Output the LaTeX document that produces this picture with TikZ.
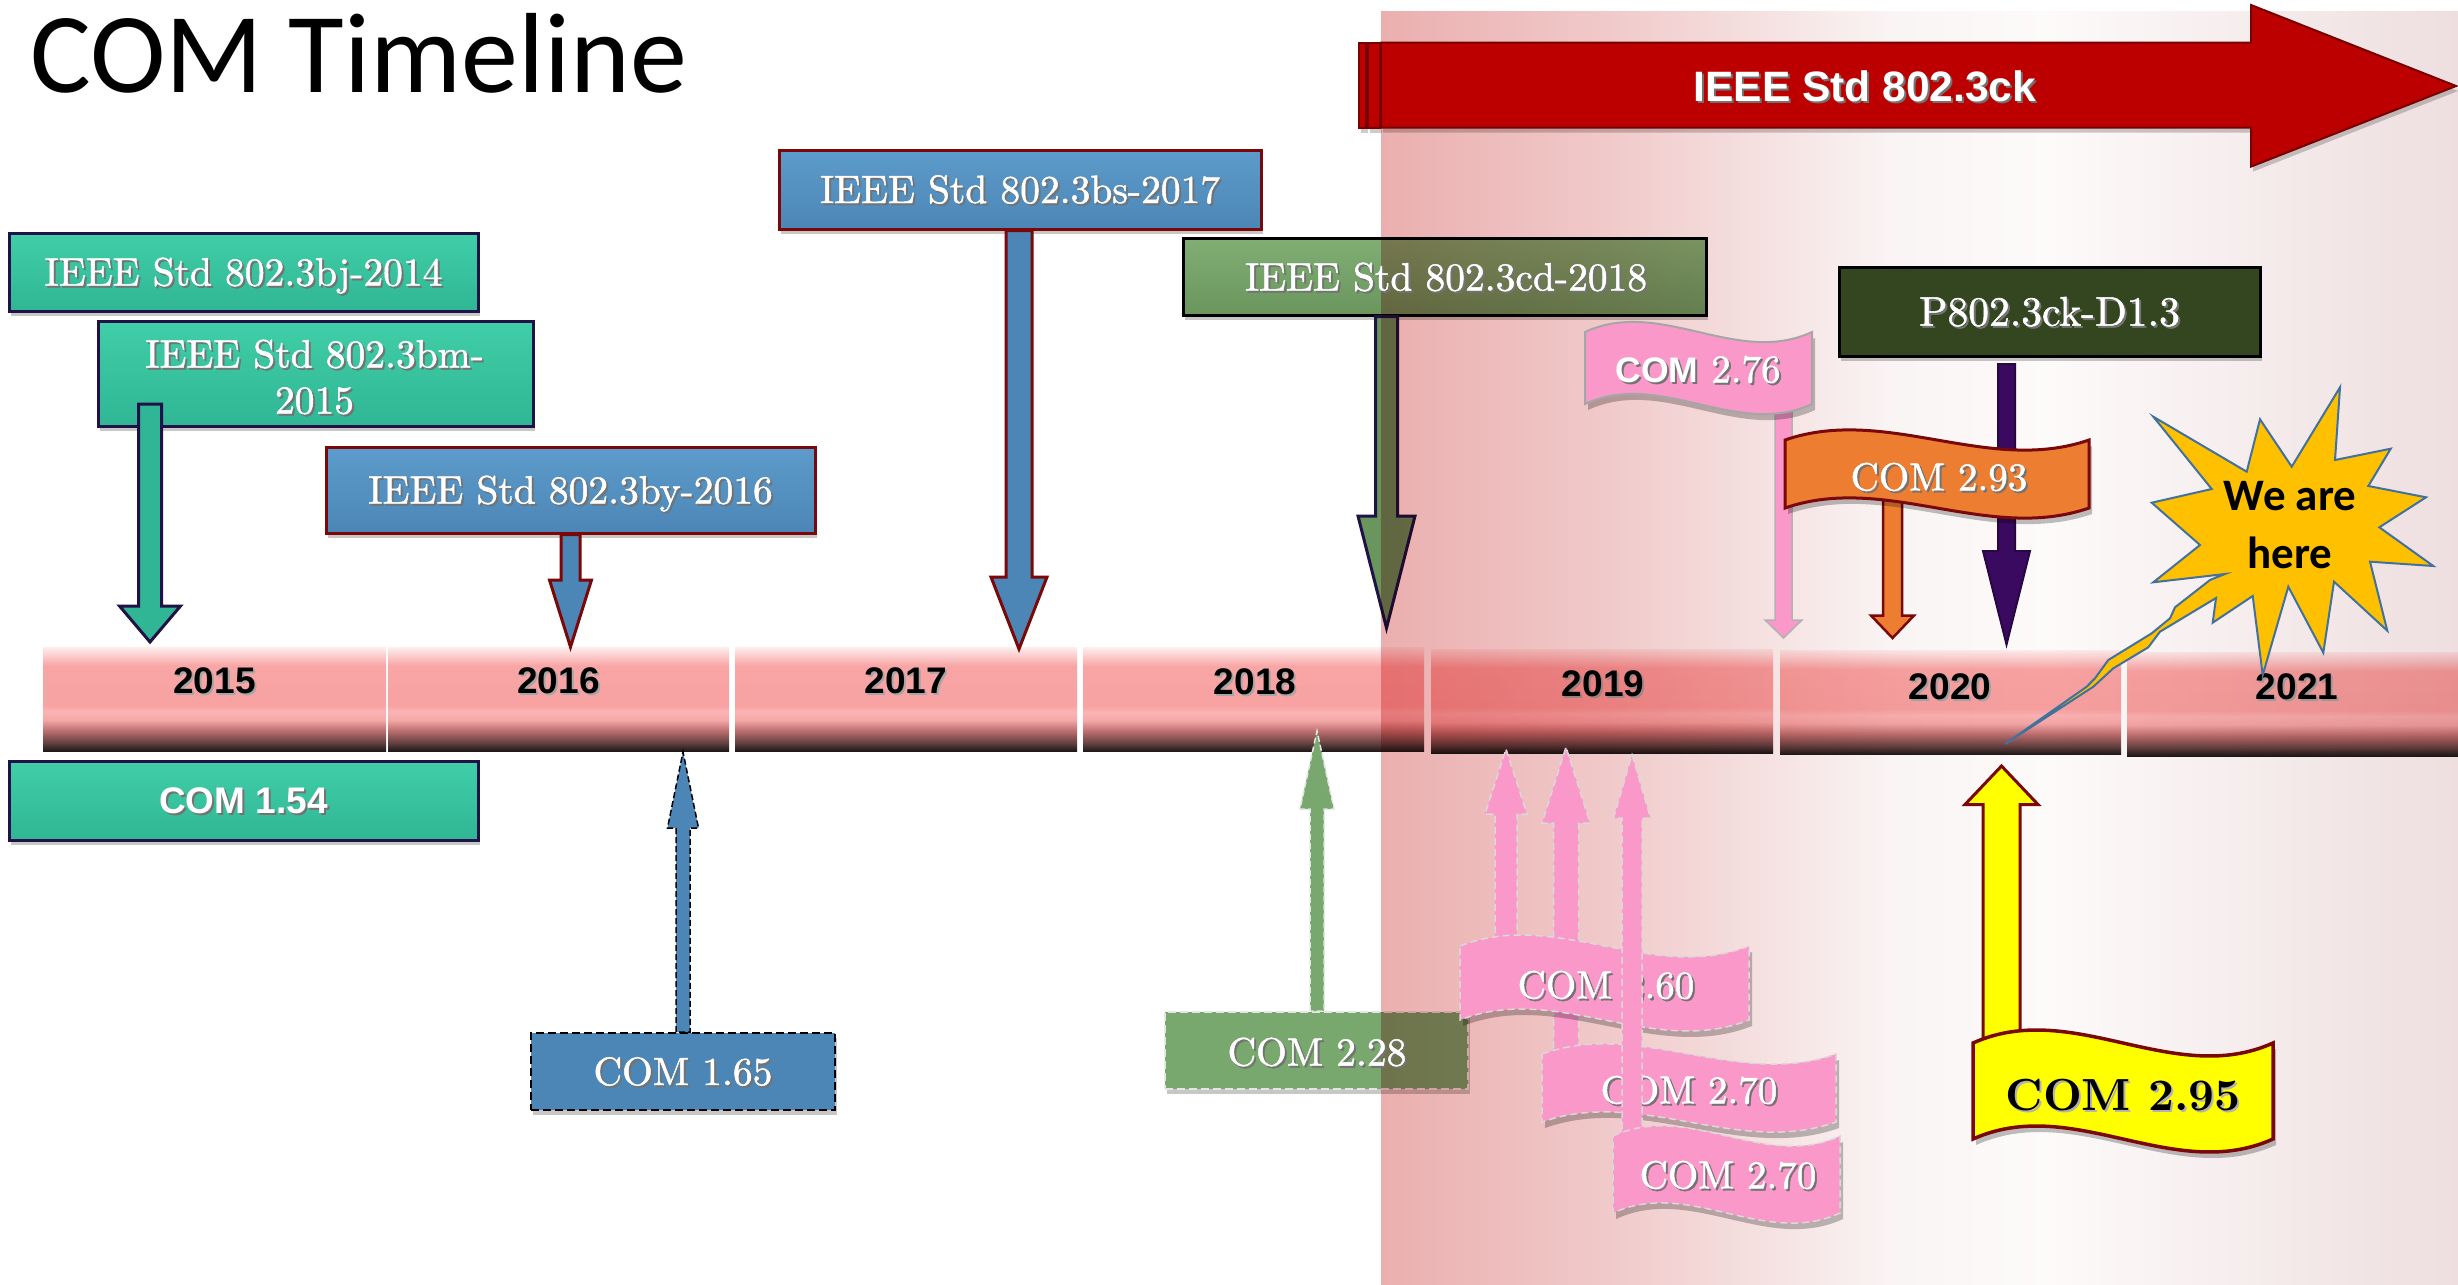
\documentclass[tikz,border=0pt]{standalone}
\usepackage{fontspec}
\setmainfont{lmroman10-regular.otf}[BoldFont=lmroman10-bold.otf,ItalicFont=lmroman10-italic.otf]
\newfontfamily\lmsemi{lmroman10-regular.otf}[FakeBold=1.2]
\newfontfamily\arialfont{Liberation Sans}
\newfontfamily\califont{Carlito}
\usetikzlibrary{calc,shadows}

\definecolor{teal1}{RGB}{64,206,168}
\definecolor{teal2}{RGB}{48,182,148}
\definecolor{navyb}{RGB}{32,18,70}
\definecolor{blue1}{RGB}{92,155,203}
\definecolor{blue2}{RGB}{76,134,182}
\definecolor{dred}{RGB}{122,8,8}
\definecolor{grn1}{RGB}{128,174,115}
\definecolor{grn2}{RGB}{106,150,94}
\definecolor{grn3}{RGB}{120,168,110}
\definecolor{olive}{RGB}{51,70,32}
\definecolor{ieeered}{RGB}{188,0,0}
\definecolor{ieeeborder}{RGB}{120,0,0}
\definecolor{purp}{RGB}{58,10,96}
\definecolor{orng}{RGB}{237,125,49}
\definecolor{pnk}{RGB}{250,152,202}
\definecolor{starf}{RGB}{255,192,0}
\definecolor{starb}{RGB}{65,113,156}
\definecolor{ylw}{RGB}{255,255,0}

\definecolor{bA}{RGB}{30,25,25}
\definecolor{bB}{RGB}{100,65,65}
\definecolor{bC}{RGB}{190,112,112}
\definecolor{bD}{RGB}{245,168,168}
\definecolor{bE}{RGB}{250,180,180}
\definecolor{bF}{RGB}{248,162,162}
\definecolor{bG}{RGB}{249,165,165}
\definecolor{bH}{RGB}{254,238,238}
\pgfdeclareverticalshading{barsh}{100bp}{color(0bp)=(bA); color(25bp)=(bA); color(29bp)=(bB); color(35bp)=(bC); color(40bp)=(bD); color(44bp)=(bE); color(47bp)=(bF); color(66bp)=(bG); color(75bp)=(bH); color(100bp)=(bH)}

\definecolor{oA}{RGB}{235,175,175}
\definecolor{oB}{RGB}{240,200,200}
\definecolor{oC}{RGB}{250,245,245}
\definecolor{oD}{RGB}{253,250,250}
\definecolor{oE}{RGB}{238,222,223}
\pgfdeclarehorizontalshading{ovlsh}{100bp}{color(0bp)=(oA); color(25bp)=(oA); color(35bp)=(oB); color(49bp)=(oC); color(56bp)=(oD); color(75bp)=(oE); color(100bp)=(oE)}

\newcommand\shd[2][black!55]{\leavevmode\rlap{\kern2pt\raisebox{-2pt}{\textcolor{#1}{#2}}}#2}

\newcommand\blkdown[6]{%
  \path[#1] let \p1=(#2), \p2=(#3) in
    ({\x2-#4},{\y1}) -- ({\x2-#4},{\y2+#6}) -- ({\x2-#5},{\y2+#6}) -- (\x2,\y2)
    -- ({\x2+#5},{\y2+#6}) -- ({\x2+#4},{\y2+#6}) -- ({\x2+#4},{\y1}) -- cycle;}
\newcommand\blkup[6]{%
  \path[#1] let \p1=(#2), \p2=(#3) in
    ({\x2-#4},{\y1}) -- ({\x2-#4},{\y2-#6}) -- ({\x2-#5},{\y2-#6}) -- (\x2,\y2)
    -- ({\x2+#5},{\y2-#6}) -- ({\x2+#4},{\y2-#6}) -- ({\x2+#4},{\y1}) -- cycle;}

\tikzset{
  every node/.style={inner sep=0pt},
  shadowed/.style={drop shadow={shadow xshift=2pt,shadow yshift=-5pt,opacity=0.22,fill=black}},
  flagshadow/.style={drop shadow={shadow xshift=3pt,shadow yshift=-6pt,opacity=0.25,fill=black}},
  box/.style={draw, line width=3pt, text=white, shadowed},
  tealbox/.style={box, draw=navyb, top color=teal1, bottom color=teal2},
  bluebox/.style={box, draw=dred, top color=blue1, bottom color=blue2},
  greenbox/.style={box, draw=black, top color=grn1, bottom color=grn2},
  olivebox/.style={box, draw=black, fill=olive},
  serif/.style={font=\lmsemi\fontsize{39.5}{46}\selectfont, text height=27pt, text depth=0pt},
  sanslbl/.style={font=\arialfont\bfseries\fontsize{37}{44}\selectfont, text height=26.5pt, text depth=0pt},
  yearbar/.style={shade, shading=barsh, minimum height=104pt, draw=none},
  yearlbl/.style={sanslbl, text=black},
  ftext/.style={font=\lmsemi\fontsize{39}{46}\selectfont, text=white, text height=26.6pt, text depth=0pt},
  tealarr/.style={fill=teal2, draw=navyb, line width=3pt},
  bluearr/.style={fill=blue2, draw=dred, line width=3pt},
  grnarr/.style={fill=grn2, draw=navyb, line width=3pt},
  pinkarr/.style={fill=pnk, draw=black!30, line width=1.5pt},
  pinkupar/.style={fill=pnk, draw=black!15, line width=1.5pt, dash pattern=on 7pt off 4pt},
  orngarr/.style={fill=orng, draw=dred, line width=2.5pt},
  purparr/.style={fill=purp, draw=purp!70!black, line width=2pt},
  blueup/.style={fill=blue2, draw=black, line width=1.5pt, dash pattern=on 6pt off 3pt},
  grnup/.style={fill=grn3, draw=black!10, line width=1.5pt, dash pattern=on 6pt off 3pt},
  ylwarr/.style={fill=ylw, draw=dred, line width=3pt},
  redarr/.style={fill=ieeered, draw=ieeeborder, line width=2pt, drop shadow={shadow xshift=2pt,shadow yshift=-5pt,opacity=0.2,fill=black}},
  pinkflag/.style={fill=pnk, draw=black!15, line width=1.5pt, dash pattern=on 7pt off 4pt, flagshadow},
}

\begin{document}
\begin{tikzpicture}[x=1pt,y=-1pt]
\useasboundingbox (0,0) rectangle (2458,1285);
\fill[white] (0,0) rectangle (2458,1285);

% named end points
\coordinate (sTeal) at (150,404);
\coordinate (tTeal) at (150,642);
\coordinate (tBy) at (570.5,647);
\coordinate (tBs) at (1019,649);
\coordinate (tCd) at (1386.5,628);
\coordinate (t165) at (683,752);
\coordinate (t228) at (1317,731);
\coordinate (sPA) at (1506,955);   \coordinate (tPA) at (1506,749);
\coordinate (sPB) at (1566,1070);  \coordinate (tPB) at (1566,747);
\coordinate (sPC) at (1632,1140);  \coordinate (tPC) at (1632,755);
\coordinate (s276) at (1783.5,380); \coordinate (t276) at (1783.5,638);
\coordinate (s293) at (1892.5,480); \coordinate (t293) at (1892.5,638);
\coordinate (sP8) at (2006.5,364);  \coordinate (tP8) at (2006.5,644.6);
\coordinate (s295) at (2001.5,1060); \coordinate (t295) at (2001.5,766);

% title
\node[anchor=base west, font=\califont\fontsize{114}{120}\selectfont] (title) at (30,92) {COM Timeline};

% year bars
\node[yearbar, minimum width=343pt] (b2015) at (214.5,699) {};
\node[yearbar, minimum width=341pt] (b2016) at (558.5,699) {};
\node[yearbar, minimum width=342pt] (b2017) at (906,699) {};
\node[yearbar, minimum width=341pt] (b2018) at (1253.5,699.5) {};
\node[yearbar, minimum width=342pt] (b2019) at (1602,701) {};
\node[yearbar, minimum width=341pt] (b2020) at (1950.5,702.5) {};
\node[yearbar, minimum width=342pt] (b2021) at (2298,704) {};
\node[yearlbl] (l2015) at (214.5,680.5) {\shd[black!35]{2015}};
\node[yearlbl] (l2016) at (558.5,680.5) {\shd[black!35]{2016}};
\node[yearlbl] (l2017) at (906,680.5) {\shd[black!35]{2017}};
\node[yearlbl] (l2018) at (1255,681.5) {\shd[black!35]{2018}};
\node[yearlbl] (l2019) at (1603,683.5) {\shd[black!35]{2019}};
\node[yearlbl] (l2020) at (1950,686) {\shd[black!35]{2020}};
\node[yearlbl] (l2021) at (2297,686) {\shd[black!35]{2021}};

% left boxes
\node[tealbox, serif, minimum width=469pt, minimum height=78pt] (bj) at (243.5,272) {\shd{IEEE Std 802.3bj-2014}};
\node[tealbox, minimum width=435pt, minimum height=105pt] (bm) at (315.5,373.5) {};
\node[serif, text=white] (bmt1) at (314.5,354) {\shd{IEEE Std 802.3bm-}};
\node[serif, text=white] (bmt2) at (314.5,400) {\shd{2015}};
\blkdown{tealarr}{sTeal}{tTeal}{11.5pt}{30.5pt}{36pt}
\node[tealbox, sanslbl, minimum width=469pt, minimum height=79pt] (c154) at (243.5,800.5) {\shd{COM 1.54}};

\node[bluebox, serif, minimum width=489pt, minimum height=86pt] (by) at (570.5,490) {\shd{IEEE Std 802.3by-2016}};
\blkdown{bluearr}{by.south}{tBy}{9.5pt}{21pt}{67pt}
\node[bluebox, serif, minimum width=482pt, minimum height=79pt] (bs) at (1020,189.5) {\shd{IEEE Std 802.3bs-2017}};
\blkdown{bluearr}{bs.south}{tBs}{13pt}{28pt}{72pt}

\node[box, fill=blue2, draw=black, line width=2pt, dash pattern=on 8pt off 4pt, serif, minimum width=304pt, minimum height=77pt] (c165) at (683,1071.5) {\shd{COM 1.65}};
\blkup{blueup}{c165.north}{t165}{7pt}{15.5pt}{76pt}

\node[greenbox, minimum width=523pt, minimum height=77pt] (cd) at (1444.5,276.5) {};
\blkdown{grnarr}{cd.south}{tCd}{11pt}{28.5pt}{112pt}
\node[box, fill=grn3, draw=black!10, line width=2pt, dash pattern=on 8pt off 4pt, minimum width=303pt, minimum height=77pt] (c228) at (1316.5,1050.5) {};
\blkup{grnup}{c228.north}{t228}{7pt}{17pt}{78pt}

% shaded region
\shade[shading=ovlsh, blend mode=multiply] (1381,11) rectangle (2458,1285);

\node[serif, text=white] (cdt) at (1446,277) {\shd{IEEE Std 802.3cd-2018}};
\node[serif, text=white] (c228t) at (1317,1052) {\shd{COM 2.28}};

% IEEE 802.3ck arrow
\filldraw[redarr] (1359,42.7) rectangle (1366,127.7);
\filldraw[redarr] (1368,42.7) rectangle (1380,127.7);
\filldraw[redarr] (1381,42.7) -- (2251,42.7) -- (2251,5) -- (2456,86) -- (2251,166.6) -- (2251,127.7) -- (1381,127.7) -- cycle;
\node[font=\arialfont\bfseries\fontsize{42.5}{50}\selectfont, text=white, text height=30.4pt, text depth=0pt] (ck) at (1865,86) {\shd{IEEE Std 802.3ck}};

% 2019 pink group
\blkup{pinkupar}{sPA}{tPA}{11pt}{21pt}{65pt}
\blkup{pinkupar}{sPB}{tPB}{12.5pt}{24pt}{76pt}
\filldraw[pinkflag] (1460,946) .. controls (1556.3,908) and (1652.7,984) .. (1749,946) -- (1749,1020) .. controls (1652.7,1058) and (1556.3,982) .. (1460,1020) -- cycle;
\node[ftext] (f260) at (1606,985) {\shd{COM 2.60}};
\filldraw[pinkflag] (1542,1054) .. controls (1640,1019) and (1738,1089) .. (1836,1054) -- (1836,1122) .. controls (1738,1157) and (1640,1087) .. (1542,1122) -- cycle;
\node[ftext] (f270a) at (1689,1090) {\shd{COM 2.70}};
\blkup{pinkupar}{sPC}{tPC}{10pt}{18.5pt}{63pt}
\filldraw[pinkflag] (1613,1136) .. controls (1688.7,1101) and (1764.3,1171) .. (1840,1136) -- (1840,1213) .. controls (1764.3,1248) and (1688.7,1178) .. (1613,1213) -- cycle;
\node[ftext] (f270b) at (1728,1175) {\shd{COM 2.70}};

% COM 2.76
\blkdown{pinkarr}{s276}{t276}{8.5pt}{18.5pt}{18pt}
\filldraw[fill=pnk, draw=black!35, line width=2pt, flagshadow] (1585,332) .. controls (1660.7,297) and (1736.3,367) .. (1812,332) -- (1812,404) .. controls (1736.3,439) and (1660.7,369) .. (1585,404) -- cycle;
\node[ftext] (f276) at (1698,369) {\shd{{\arialfont\bfseries\fontsize{35.5}{40}\selectfont COM} 2.76}};

% P802.3ck
\node[olivebox, font=\lmsemi\fontsize{41.5}{48}\selectfont, text height=28.3pt, text depth=0pt, minimum width=421pt, minimum height=89pt] (p8) at (2049.5,311.5) {\shd{P802.3ck-D1.3}};
\blkdown{purparr}{sP8}{tP8}{8.5pt}{23.5pt}{93.6pt}
\blkdown{orngarr}{s293}{t293}{9.5pt}{21.5pt}{22.5pt}
\filldraw[fill=orng, draw=dred, line width=3pt, flagshadow] (1785,440) .. controls (1886.3,405) and (1987.7,475) .. (2089,440) -- (2089,508) .. controls (1987.7,543) and (1886.3,473) .. (1785,508) -- cycle;
\node[ftext] (f293) at (1939,477) {\shd{COM 2.93}};

% COM 2.95
\blkup{ylwarr}{s295}{t295}{18.5pt}{36.5pt}{38.5pt}
\filldraw[fill=ylw, draw=dred, line width=3.5pt, flagshadow] (1973,1043) .. controls (2073,998) and (2173,1088) .. (2273,1043) -- (2273,1139) .. controls (2173,1184) and (2073,1094) .. (1973,1139) -- cycle;
\node[font=\bfseries\fontsize{45}{52}\selectfont, text height=31pt, text depth=0pt] (f295) at (2123,1095) {\shd[black!30]{COM 2.95}};

% We are here star
\filldraw[fill=starf, draw=starb, line width=2pt, line join=miter]
  (2153.3,416.7) -- (2246.7,471.7) -- (2260,419.3) -- (2291.7,466.7) -- (2340,387.3) -- (2335,460)
  -- (2390.7,448.7) -- (2368.3,486) -- (2426,497.3) -- (2379.3,527.3) -- (2433.3,566) -- (2370,561.7)
  -- (2387.3,630.7) -- (2334,581.7) -- (2323.3,652.7) -- (2288.3,586.7) -- (2262.7,675) -- (2252.7,596)
  -- (2212.7,622.7) -- (2216,598) -- (2160,631.7) -- (2148.3,647.3) -- (2113.3,668.3) -- (2093.3,686.7)
  -- (2005,744) -- (2086.7,686.7) -- (2095,678.3) -- (2108.3,660) -- (2151.7,633.3) -- (2170,618.3)
  -- (2175,607.3) -- (2210,580) -- (2225,574) -- (2153.3,582.3) -- (2200,545) -- (2151.7,502.7)
  -- (2211.7,489) -- cycle;
\node[anchor=base, font=\califont\bfseries\fontsize{45}{50}\selectfont] (we) at (2290,510) {We are};
\node[anchor=base, font=\califont\bfseries\fontsize{45}{50}\selectfont] (here) at (2290,568) {here};
\end{tikzpicture}
\end{document}
